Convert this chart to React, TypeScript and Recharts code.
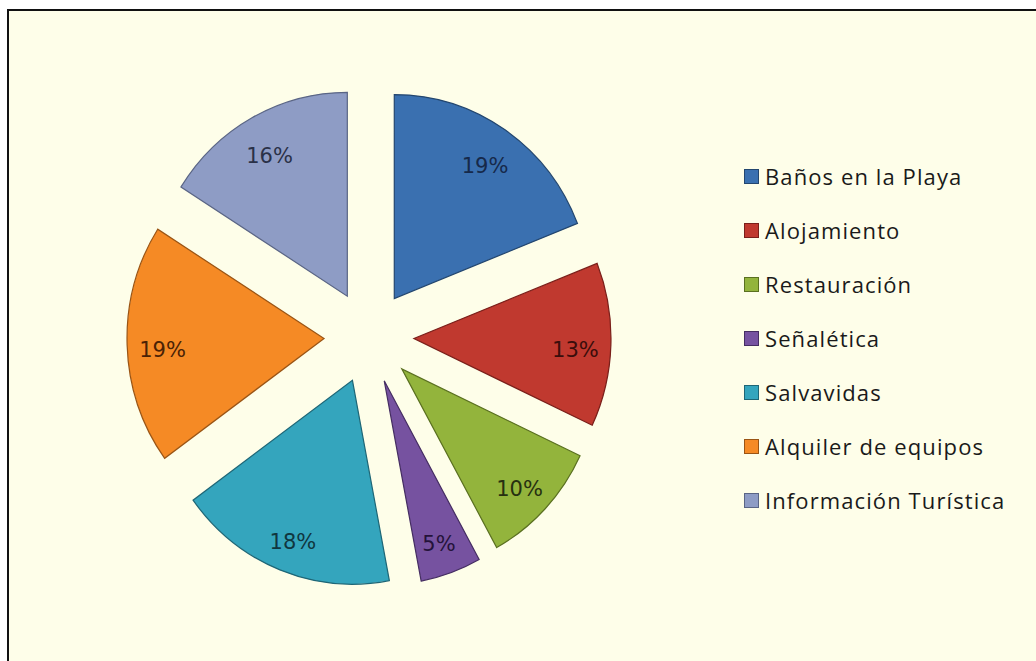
import { PieChart, Pie, Cell, Sector, Legend } from 'recharts';

const categories = [
  'Baños en la Playa',
  'Alojamiento',
  'Restauración',
  'Señalética',
  'Salvavidas',
  'Alquiler de equipos',
  'Información Turística',
];
const shares = [19, 13, 10, 5, 18, 19, 16];

const COLORS = ['#3a70b0', '#c0392f', '#93b43c', '#7652a0', '#34a5bd', '#f58a25', '#8e9cc5'];
const EDGES = ['#23466f', '#7a1f1a', '#5a7020', '#452d62', '#1e6676', '#9a5414', '#5a6585'];
const LABEL_COLORS = ['#16294a', '#3a0d0b', '#263010', '#24123a', '#10363f', '#4a2205', '#2a3148'];

const chartData = categories.map((name, i) => ({ name, value: shares[i] }));

const RAD = Math.PI / 180;
const EXPLODE = 45;
const SY = 1.035; // the original pie is a touch taller than wide

const renderSlice = (props: any) => {
  const { cx, cy, midAngle, innerRadius, outerRadius, startAngle, endAngle, fill, stroke } = props;
  const dx = EXPLODE * Math.cos(-midAngle * RAD);
  const dy = EXPLODE * Math.sin(-midAngle * RAD);
  return (
    <g transform={`translate(0 ${cy}) scale(1 ${SY}) translate(0 ${-cy})`}>
      <Sector
        cx={cx + dx}
        cy={cy + dy}
        innerRadius={innerRadius}
        outerRadius={outerRadius}
        startAngle={startAngle}
        endAngle={endAngle}
        fill={fill}
        stroke={stroke}
        strokeWidth={1.2}
      />
    </g>
  );
};

const renderLabel = (props: any) => {
  const { cx, cy, midAngle, outerRadius, percent, index } = props;
  const r = EXPLODE + outerRadius * 0.82;
  const x = cx + r * Math.cos(-midAngle * RAD);
  const y = cy + SY * r * Math.sin(-midAngle * RAD) + 6;
  return (
    <text
      x={x}
      y={y}
      fill={LABEL_COLORS[index]}
      textAnchor="middle"
      dominantBaseline="central"
      fontSize={21}
      fontFamily="'DejaVu Sans', sans-serif"
    >
      {Math.round(percent * 100)}%
    </text>
  );
};

const renderLegend = () => (
  <div style={{ fontFamily: "'Open Sans', sans-serif", fontSize: 22, color: '#1a1a1a' }}>
    {categories.map((name, i) => (
      <div key={name} style={{ display: 'flex', alignItems: 'center', height: 54 }}>
        <span
          style={{
            display: 'inline-block',
            width: 13,
            height: 13,
            marginRight: 6,
            background: COLORS[i],
            border: `1px solid ${EDGES[i]}`,
          }}
        />
        <span style={{ letterSpacing: 1.1 }}>{name}</span>
      </div>
    ))}
  </div>
);

export default function App() {
  return (
    <div style={{ position: 'absolute', left: 0, top: 0, width: 1036, height: 661, background: '#ffffff', overflow: 'hidden' }}>
      <div
        style={{
          position: 'absolute',
          left: 7,
          top: 9,
          width: 1100,
          height: 700,
          background: '#fefee9',
          borderTop: '2.5px solid #111',
          borderLeft: '2.5px solid #111',
        }}
      />
      <div style={{ position: 'absolute', left: 0, top: 0 }}>
        <PieChart width={1036} height={661}>
          <Pie
            data={chartData}
            dataKey="value"
            nameKey="name"
            cx={364}
            cy={332}
            outerRadius={197}
            startAngle={90}
            endAngle={-270}
            label={renderLabel}
            labelLine={false}
            shape={renderSlice}
            activeShape={renderSlice}
            inactiveShape={renderSlice}
            isAnimationActive={false}
          >
            {chartData.map((d, i) => (
              <Cell key={d.name} fill={COLORS[i]} stroke={EDGES[i]} />
            ))}
          </Pie>
          <Legend
            content={renderLegend}
            wrapperStyle={{ position: 'absolute', left: 744, top: 149, width: 290 }}
          />
        </PieChart>
      </div>
    </div>
  );
}
